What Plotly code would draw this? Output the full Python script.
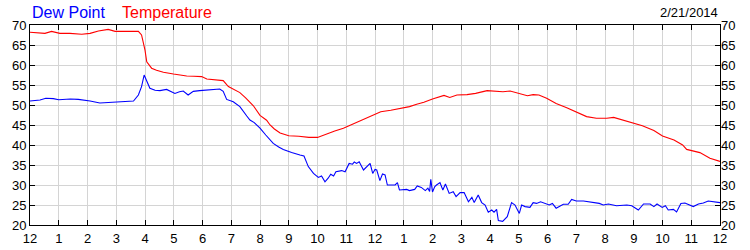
import plotly.graph_objects as go

# ---- data (hours after midnight, degrees F) ----
temp_hours = [
    0, 0.25, 0.52, 0.75, 1.04, 1.39, 1.8, 2.09, 2.38, 2.72,
    2.96, 3.3, 3.77, 3.88, 3.95, 4.0, 4.06, 4.15, 4.23, 4.4,
    4.64, 4.99, 5.2, 5.45, 5.7, 5.97, 6.15, 6.4, 6.72, 6.9,
    7.1, 7.3, 7.5, 7.77, 8.0, 8.23, 8.35, 8.5, 8.7, 9.0,
    9.35, 9.7, 10.0, 10.3, 10.6, 10.9, 11.15, 11.4, 11.7, 11.95,
    12.2, 12.55, 12.9, 13.2, 13.45, 13.7, 14.0, 14.2, 14.4, 14.6,
    14.85, 15.2, 15.5, 15.9, 16.1, 16.45, 16.7, 17.05, 17.3, 17.5,
    17.7, 17.97, 18.3, 18.67, 19.0, 19.36, 19.7, 20.06, 20.3, 20.6,
    21.0, 21.3, 21.7, 22.0, 22.4, 22.7, 22.84, 23.05, 23.3, 23.65,
    24.0]
temp_vals = [
    68.2, 68.1, 67.9, 68.4, 67.9, 67.9, 67.7, 67.9, 68.5, 68.9,
    68.4, 68.4, 68.4, 67.5, 65.5, 63.7, 60.8, 59.8, 59.2, 58.7,
    58.2, 57.75, 57.5, 57.25, 57.2, 57.1, 56.5, 56.4, 56.1, 54.6,
    53.9, 53.1, 51.8, 49.8, 47.4, 46.2, 45.0, 44.0, 43.0, 42.3,
    42.2, 41.9, 41.9, 42.75, 43.5, 44.2, 45.0, 45.8, 46.6, 47.5,
    48.3, 48.7, 49.2, 49.6, 50.2, 50.7, 51.5, 52.0, 52.4, 51.9,
    52.5, 52.6, 52.9, 53.6, 53.5, 53.3, 53.5, 52.9, 52.3, 52.6,
    52.5, 51.7, 50.4, 49.3, 48.2, 47.1, 46.7, 46.7, 46.9, 46.25,
    45.4, 44.8, 43.6, 42.25, 41.25, 40.0, 38.9, 38.5, 38.1, 36.7,
    35.9]

dew_hours = [
    0, 0.35, 0.55, 0.81, 1.0, 1.16, 1.4, 1.68, 1.9, 2.09,
    2.43, 2.8, 3.13, 3.4, 3.6, 3.77, 3.88, 3.97, 4.06, 4.17,
    4.35, 4.52, 4.75, 4.9, 5.04, 5.2, 5.33, 5.5, 5.68, 5.9,
    6.15, 6.4, 6.6, 6.72, 6.84, 7.07, 7.3, 7.54, 7.65, 7.8,
    8.0, 8.2, 8.46, 8.65, 8.81, 9.1, 9.3, 9.39, 9.53, 9.68,
    9.86, 10.03, 10.14, 10.26, 10.37, 10.46, 10.56, 10.64, 10.84, 10.96,
    11.1, 11.22, 11.28, 11.36, 11.45, 11.6, 11.83, 11.92, 12.0, 12.06,
    12.17, 12.26, 12.35, 12.43, 12.7, 12.78, 12.85, 13.1, 13.2, 13.38,
    13.47, 13.61, 13.75, 13.84, 13.9, 13.94, 14.0, 14.08, 14.14, 14.26,
    14.36, 14.45, 14.58, 14.72, 14.82, 14.96, 15.1, 15.25, 15.37, 15.45,
    15.59, 15.71, 15.83, 15.94, 16.06, 16.14, 16.23, 16.29, 16.44, 16.6,
    16.75, 16.87, 17.02, 17.1, 17.22, 17.39, 17.5, 17.62, 17.76, 17.91,
    18.06, 18.17, 18.3, 18.55, 18.72, 18.84, 19.0, 19.25, 19.8, 19.94,
    20.12, 20.4, 20.76, 20.93, 21.16, 21.34, 21.57, 21.7, 21.81, 21.99,
    22.1, 22.2, 22.38, 22.49, 22.64, 22.78, 22.93, 23.07, 23.25, 23.42,
    23.59, 23.94, 24.0]
dew_vals = [
    51.0, 51.25, 51.7, 51.6, 51.3, 51.4, 51.5, 51.4, 51.2, 51.0,
    50.5, 50.6, 50.7, 50.9, 51.0, 52.5, 54.6, 57.5, 55.8, 54.2,
    53.7, 53.6, 53.9, 53.4, 52.9, 53.3, 53.5, 52.5, 53.4, 53.6,
    53.8, 54.0, 54.0, 53.4, 51.4, 50.8, 49.6, 47.25, 46.25, 45.6,
    44.2, 42.5, 40.4, 39.5, 38.9, 38.1, 37.8, 37.5, 37.25, 34.6,
    32.9, 31.9, 32.25, 30.8, 31.7, 32.7, 32.25, 33.3, 33.6, 33.3,
    35.4, 35.2, 35.75, 35.4, 35.8, 33.75, 35.4, 32.9, 33.9, 33.75,
    31.1, 32.75, 32.5, 30.0, 30.0, 30.6, 28.75, 28.9, 28.6, 28.9,
    29.75, 29.4, 28.6, 29.2, 28.4, 31.4, 28.25, 29.6, 30.0, 30.6,
    28.75, 30.25, 27.9, 28.3, 27.1, 28.1, 28.1, 25.8, 26.9, 25.6,
    27.5, 25.6, 25.0, 23.2, 23.75, 23.2, 23.9, 21.1, 20.9, 22.1,
    25.6, 25.0, 22.9, 25.0, 24.6, 24.4, 25.6, 25.4, 25.8, 25.4,
    25.0, 25.4, 24.2, 25.2, 25.2, 26.4, 26.0, 26.0, 25.4, 25.0,
    25.25, 24.8, 25.0, 24.8, 23.75, 25.25, 25.25, 24.6, 25.25, 24.4,
    24.8, 23.75, 23.9, 23.25, 25.4, 25.5, 25.0, 24.6, 25.25, 25.5,
    26.0, 25.8, 25.6]

hour_ticks = list(range(25))
hour_labels = ["12", "1", "2", "3", "4", "5", "6", "7", "8", "9", "10", "11",
               "12", "1", "2", "3", "4", "5", "6", "7", "8", "9", "10", "11", "12"]
y_ticks = [20, 25, 30, 35, 40, 45, 50, 55, 60, 65, 70]
date_label = "2/21/2014"
series_names = ["Dew Point", "Temperature"]

assert len(temp_hours) == len(temp_vals)
assert len(dew_hours) == len(dew_vals)

FONT = "Liberation Sans, Arial, sans-serif"
BLUE = "#0000ff"
RED = "#ff0000"
GRID = "#d4d4d4"

fig = go.Figure()
fig.add_trace(go.Scatter(x=dew_hours, y=dew_vals, mode="lines",
                         line=dict(color=BLUE, width=1.1), name=series_names[0],
                         yaxis="y"))
fig.add_trace(go.Scatter(x=temp_hours, y=temp_vals, mode="lines",
                         line=dict(color=RED, width=1.1), name=series_names[1],
                         yaxis="y2"))

axis_common = dict(
    showline=True, linecolor="black", linewidth=1,
    ticks="inside", ticklen=5, tickcolor="black", tickwidth=1,
    zeroline=False, automargin=False,
    tickfont=dict(family=FONT, size=13, color="black"),
)

fig.update_layout(
    width=750, height=250,
    margin=dict(l=30, r=30, t=25, b=25),
    paper_bgcolor="white", plot_bgcolor="white",
    showlegend=False,
    font=dict(family=FONT, size=13, color="black"),
    xaxis=dict(range=[0, 24], tickmode="array", tickvals=hour_ticks,
               ticktext=hour_labels, showgrid=True, gridcolor=GRID,
               gridwidth=1, mirror="ticks", ticklabelstandoff=1,
               **axis_common),
    yaxis=dict(range=[20, 70], tickmode="array", tickvals=y_ticks,
               showgrid=True, gridcolor=GRID, gridwidth=1,
               mirror="ticks", side="left", **axis_common),
    yaxis2=dict(range=[20, 70], tickmode="array", tickvals=y_ticks,
                overlaying="y", side="right", showgrid=False,
                showline=False, ticks="", zeroline=False, automargin=False,
                tickfont=dict(family=FONT, size=13, color="black")),
    annotations=[
        dict(text=series_names[0], xref="paper", yref="paper", x=0.0, y=1.065,
             xanchor="left", yanchor="middle", showarrow=False,
             font=dict(family=FONT, size=16, color=BLUE)),
        dict(text=series_names[1], xref="paper", yref="paper", x=0.13, y=1.065,
             xanchor="left", yanchor="middle", showarrow=False,
             font=dict(family=FONT, size=16, color=RED)),
        dict(text=date_label, xref="paper", yref="paper", x=1.0, y=1.06,
             xanchor="right", yanchor="middle", showarrow=False,
             font=dict(family=FONT, size=13, color="black")),
    ],
)

fig.write_html("out.html")
